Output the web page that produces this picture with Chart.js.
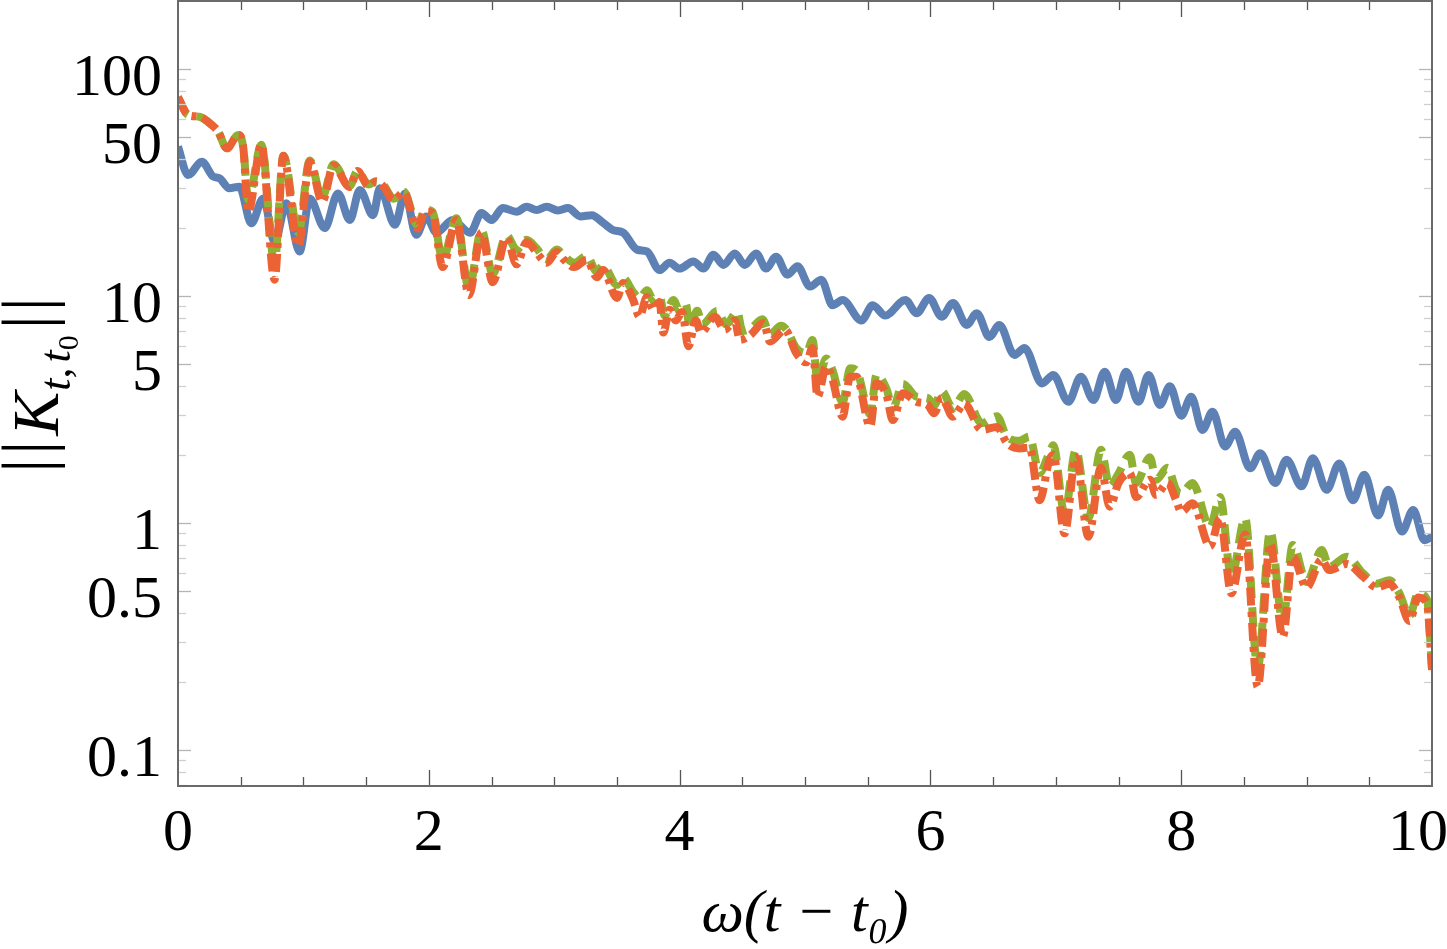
<!DOCTYPE html>
<html><head><meta charset="utf-8">
<script src="https://cdn.jsdelivr.net/npm/chart.js@4.4.0/dist/chart.umd.min.js"></script>
<style>html,body{margin:0;padding:0;background:#fff;}#wrap{width:1447px;height:949px;position:relative;}</style>
</head><body><div id="wrap"><canvas id="c"></canvas></div>
<script>
// ---- data ----
const blueT = [0.00,0.08,0.19,0.28,0.33,0.41,0.49,0.585,0.68,0.77,0.865,0.97,1.05,1.17,1.276,1.37,1.45,1.555,1.61,1.73,1.81,1.90,1.98,2.06,2.19,2.33,2.42,2.50,2.59,2.70,2.78,2.86,2.94,3.03,3.11,3.21,3.30,3.39,3.47,3.55,3.66,3.74,3.84,3.92,4.00,4.11,4.19,4.27,4.35,4.44,4.52,4.61,4.69,4.77,4.86,4.94,5.04,5.13,5.22,5.30,5.45,5.54,5.64,5.80,5.89,5.99,6.09,6.18,6.29,6.37,6.47,6.55,6.67,6.75,6.89,6.98,7.10,7.20,7.30,7.39,7.48,7.56,7.66,7.74,7.83,7.91,8.00,8.08,8.17,8.25,8.35,8.43,8.55,8.63,8.75,8.84,8.96,9.05,9.16,9.26,9.37,9.46,9.57,9.65,9.76,9.85,9.94,10.0];
const blueK = [45.5,34.1,39.0,33.6,33.0,29.8,30.3,20.9,26.9,17.3,25.6,15.7,26.9,19.9,28.3,21.6,29.3,22.7,29.8,20.6,28.3,18.6,22.4,19.0,21.6,19.0,23.2,21.6,24.4,23.5,24.7,23.9,24.7,23.8,24.4,22.4,22.7,21.0,19.5,19.0,16.0,15.7,13.0,14.0,13.2,14.2,13.2,15.2,13.7,15.4,13.7,15.4,13.2,14.9,12.4,13.5,11.0,11.8,9.1,9.6,7.8,9.1,8.2,9.6,8.4,9.8,8.1,9.3,7.45,8.4,6.6,7.45,5.5,5.9,4.12,4.49,3.42,4.41,3.48,4.64,3.48,4.64,3.42,4.49,3.31,4.0,2.97,3.60,2.57,3.09,2.17,2.52,1.74,2.03,1.50,1.90,1.45,1.93,1.40,1.83,1.26,1.63,1.08,1.40,0.916,1.14,0.84,0.87];

const greenT = [0.00,0.08,0.17,0.27,0.32,0.39,0.48,0.52,0.56,0.665,0.77,0.84,0.96,1.05,1.15,1.24,1.37,1.43,1.52,1.58,1.635,1.72,1.80,1.91,1.97,2.03,2.11,2.22,2.32,2.42,2.51,2.62,2.70,2.78,2.86,2.94,3.02,3.08,3.16,3.26,3.34,3.39,3.50,3.55,3.63,3.68,3.74,3.79,3.84,3.88,3.95,4.00,4.05,4.08,4.14,4.18,4.30,4.37,4.46,4.50,4.57,4.66,4.72,4.81,4.86,4.93,5.01,5.06,5.10,5.17,5.22,5.30,5.36,5.41,5.52,5.57,5.65,5.70,5.78,5.89,5.98,6.03,6.09,6.18,6.27,6.41,6.53,6.61,6.71,6.79,6.87,6.95,6.98,7.07,7.16,7.26,7.36,7.43,7.50,7.59,7.64,7.75,7.80,7.89,7.96,8.00,8.09,8.23,8.31,8.40,8.51,8.61,8.71,8.81,8.89,9.00,9.12,9.18,9.32,9.45,9.56,9.66,9.74,9.82,9.89,9.96,10.0];
const greenK = [75,62.7,61.6,56.6,53.0,44.7,51.2,45.3,26.5,46.3,14.0,41.5,19.0,39.5,27.0,38.0,30.5,35.5,31.0,32.0,31.0,26.8,28.8,20.5,24.0,23.5,14.5,22.0,10.8,19.5,12.5,18.5,16.0,17.7,16.2,14.5,16.0,15.0,14.0,15.0,12.8,13.6,11.2,12.0,10.4,9.8,10.6,9.6,10.0,8.2,9.6,8.6,9.2,7.2,8.6,7.5,8.6,7.5,8.5,7.0,7.2,7.9,6.8,7.4,7.0,5.9,5.6,6.4,4.2,5.3,4.7,3.4,4.8,4.7,3.0,4.5,3.9,3.2,4.1,3.6,3.55,3.3,3.8,3.2,3.7,2.75,2.95,2.4,2.3,2.4,1.66,2.05,2.2,1.10,2.1,1.05,2.1,1.45,1.65,2.0,1.5,1.95,1.55,1.75,1.4,1.35,1.5,0.96,1.3,0.58,1.05,0.23,0.92,0.37,0.8,0.55,0.76,0.64,0.71,0.6,0.54,0.56,0.49,0.39,0.49,0.46,0.23];

const orangeT = [0.00,0.08,0.17,0.27,0.32,0.39,0.48,0.52,0.56,0.665,0.77,0.84,0.96,1.05,1.15,1.24,1.37,1.43,1.52,1.58,1.635,1.72,1.80,1.91,1.97,2.03,2.11,2.22,2.32,2.42,2.51,2.62,2.70,2.78,2.86,2.94,3.02,3.08,3.16,3.26,3.34,3.39,3.50,3.55,3.63,3.68,3.74,3.79,3.84,3.87,3.92,3.97,4.02,4.07,4.13,4.17,4.28,4.36,4.44,4.48,4.56,4.67,4.72,4.84,4.93,5.01,5.06,5.10,5.17,5.22,5.30,5.36,5.41,5.52,5.57,5.65,5.70,5.78,5.89,5.98,6.03,6.09,6.18,6.27,6.41,6.53,6.61,6.71,6.79,6.87,6.95,6.98,7.07,7.16,7.26,7.36,7.43,7.50,7.59,7.64,7.75,7.80,7.89,7.96,8.00,8.09,8.23,8.31,8.40,8.51,8.61,8.71,8.81,8.89,9.00,9.12,9.18,9.32,9.45,9.56,9.66,9.74,9.82,9.89,9.96,10.0];
const orangeK = [75,62.7,61.6,56.6,53.0,44.7,51.2,45.3,23.5,46.3,11.8,41.5,16.6,39.0,26.0,37.5,30.2,35.5,30.5,31.9,30.5,26.5,28.6,19.8,23.5,23.2,13.4,21.6,10.1,19.0,11.5,18.0,13.8,17.3,15.5,14.0,15.6,14.4,13.4,14.4,12.1,13.0,9.8,11.4,9.6,8.1,9.9,8.7,9.4,6.9,8.7,7.8,8.5,6.0,7.8,6.9,8.1,7.1,7.8,6.4,6.7,7.6,6.3,7.1,5.6,5.1,5.9,3.6,4.9,4.27,2.94,4.41,4.41,2.66,4.12,3.66,2.84,3.73,3.42,3.31,3.04,3.55,2.94,3.35,2.57,2.65,2.25,2.13,2.15,1.26,1.9,2.0,0.90,1.95,0.87,1.75,1.18,1.5,1.66,1.3,1.55,1.33,1.5,1.26,1.12,1.22,0.79,1.05,0.49,0.89,0.19,0.81,0.315,0.71,0.52,0.69,0.62,0.66,0.58,0.52,0.54,0.47,0.37,0.47,0.44,0.225];

const yTickLabels = [0.1, 0.5, 1, 5, 10, 50, 100];
const xTickStep = 2;
const xTitle = 'ω(t − t₀)';

// ---- chart ----
const FONT = "'Liberation Serif', 'DejaVu Serif', serif";
const pts = (T, K) => T.map((t, i) => ({x: t, y: K[i]}));

const framePlugin = {
  id: 'frame',
  afterDatasetsDraw(chart) {
    const {ctx, chartArea: a, scales: {x, y}} = chart;
    ctx.save();
    const seg = (x1, y1, x2, y2) => { ctx.beginPath(); ctx.moveTo(x1, y1); ctx.lineTo(x2, y2); ctx.stroke(); };
    ctx.strokeStyle = '#555'; ctx.lineWidth = 1.3;
    for (let k = 1; k < 20; k++) {
      const t = k * 0.5;
      const px = Math.round(x.getPixelForValue(t)) + 0.5;
      const L = (k % 4 === 0) ? 16 : 9;
      seg(px, a.bottom, px, a.bottom - L);
      seg(px, a.top, px, a.top + L);
    }
    for (let e = -2; e <= 2; e++) {
      for (let n = 1; n <= 9; n++) {
        const v = n * Math.pow(10, e);
        if (v < y.min || v > y.max) continue;
        const py = Math.round(y.getPixelForValue(v)) + 0.5;
        const major = (n === 1 || n === 5);
        const L = major ? 13 : 8;
        ctx.strokeStyle = major ? '#b5b5b5' : '#cfcfcf';
        ctx.lineWidth = 1.3;
        seg(a.left, py, a.left + L, py);
        seg(a.right, py, a.right - L, py);
      }
    }
    ctx.strokeStyle = '#6a6a6a'; ctx.lineWidth = 2;
    ctx.strokeRect(a.left, a.top, a.right - a.left, a.bottom - a.top);
    ctx.restore();
  }
};

const shiftLastLabel = {
  id: 'shiftLastLabel',
  beforeDraw(chart) {
    const s = chart.scales.x;
    const items = s.getLabelItems(chart.chartArea);
    const last = items[items.length - 1];
    if (last && !last._shifted) { last.options.translation[0] -= 14; last._shifted = true; }
  }
};

const yTitlePlugin = {
  id: 'yTitle',
  afterDraw(chart) {
    const ctx = chart.ctx;
    ctx.save();
    const centerY = 385, baseX = 58;
    const bar = `70px ${FONT}`;
    const pieces = [
      {t: '|', f: bar, dy: -8, g: 4},
      {t: '|', f: bar, dy: -8, g: 5},
      {t: 'K', f: `italic 66px ${FONT}`, dy: 0, g: 1},
      {t: 't', f: `italic 44px ${FONT}`, dy: 12, g: 0},
      {t: ',', f: `44px ${FONT}`, dy: 12, g: 5},
      {t: 't', f: `italic 44px ${FONT}`, dy: 12, g: 0},
      {t: '0', f: `30px ${FONT}`, dy: 20, g: 6},
      {t: '|', f: bar, dy: -8, g: 4},
      {t: '|', f: bar, dy: -8, g: 0}
    ];
    let total = 0;
    pieces.forEach(p => { ctx.font = p.f; p.w = ctx.measureText(p.t).width; total += p.w + p.g; });
    ctx.translate(baseX, centerY + total / 2);
    ctx.rotate(-Math.PI / 2);
    ctx.fillStyle = '#000';
    ctx.textBaseline = 'alphabetic';
    ctx.textAlign = 'left';
    let rx = 0;
    pieces.forEach(p => { ctx.font = p.f; ctx.fillText(p.t, rx, p.dy); rx += p.w + p.g; });
    ctx.restore();
  }
};

new Chart(document.getElementById('c'), {
  type: 'line',
  data: {
    datasets: [
      {label: 'orange', data: pts(orangeT, orangeK), borderColor: '#EB6235', borderWidth: 8, borderDash: [18, 6, 5, 6], order: 0},
      {label: 'green', data: pts(greenT, greenK), borderColor: '#8FB032', borderWidth: 8, borderDash: [20, 9], order: 1},
      {label: 'blue', data: pts(blueT, blueK), borderColor: '#5E81B5', borderWidth: 8, order: 2}
    ]
  },
  options: {
    responsive: true, maintainAspectRatio: false, animation: false, devicePixelRatio: 1,
    layout: {padding: {top: 1, right: 15, left: 0, bottom: 0}},
    elements: {
      point: {radius: 0},
      line: {cubicInterpolationMode: 'monotone', borderCapStyle: 'butt', borderJoinStyle: 'round', fill: false}
    },
    plugins: {legend: {display: false}, tooltip: {enabled: false}},
    scales: {
      x: {
        type: 'linear', min: 0, max: 10,
        grid: {display: false, drawTicks: false}, border: {display: false},
        ticks: {stepSize: xTickStep, padding: 12, color: '#000', maxRotation: 0, autoSkip: false,
                font: {family: FONT, size: 60}},
        title: {display: true, text: xTitle, color: '#000',
                font: {family: FONT, size: 60, style: 'italic', lineHeight: 1}, padding: {top: 0, bottom: 4}},
        afterFit(s) { s.height = 163; s.paddingLeft = 0; s.paddingRight = 0; }
      },
      y: {
        type: 'logarithmic', min: 0.0694, max: 199.2,
        afterBuildTicks(s) { s.ticks = yTickLabels.map(v => ({value: v})); },
        grid: {display: false, drawTicks: false}, border: {display: false},
        ticks: {padding: 16, labelOffset: 10, color: '#000', autoSkip: false,
                font: {family: FONT, size: 60}, callback: (v) => String(v)},
        afterFit(s) { s.width = 178; s.paddingTop = 0; s.paddingBottom = 0; }
      }
    }
  },
  plugins: [framePlugin, shiftLastLabel, yTitlePlugin]
});
</script>
</body></html>
